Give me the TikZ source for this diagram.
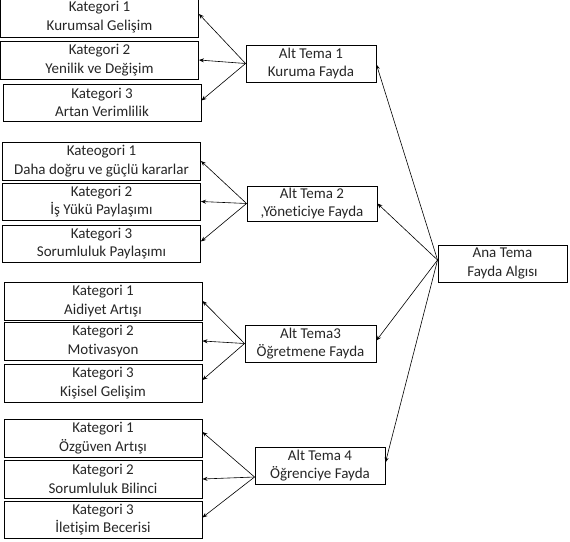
\documentclass[tikz,border=0pt]{standalone}
\usepackage{fontspec}
\setmainfont{Carlito}[Ligatures={NoCommon}]
\usetikzlibrary{arrows.meta}
\begin{document}
\begin{tikzpicture}[x=1pt,y=-1pt,
  box/.style={draw=black,line width=0.9pt,rectangle,inner sep=0pt,align=center,
    font=\fontsize{15}{18.5}\selectfont,text=black!85},
  kat/.style={box,minimum width=198pt,minimum height=38pt},
  alt/.style={box,minimum width=130pt,minimum height=37pt},
  arr/.style={-{Stealth[length=5pt,width=4pt]},line width=0.6pt,black}]
\useasboundingbox (0,0) rectangle (570,541);
% group 1
\node[kat,minimum height=40pt] (k11) at (99.5,17) {Kategori 1\\Kurumsal Gelişim};
\node[kat] (k12) at (99.5,60) {Kategori 2\\Yenilik ve Değişim};
\node[kat,minimum height=37pt] (k13) at (102,102.5) {Kategori 3\\Artan Verimlilik};
\node[alt] (a1) at (311,63.5) {Alt Tema 1\\Kuruma Fayda};
% group 2
\node[kat] (k21) at (101.5,161) {Kateogori 1\\Daha doğru ve güçlü kararlar};
\node[kat,minimum height=37pt] (k22) at (101.5,201.5) {Kategori 2\\İş Yükü Paylaşımı};
\node[kat,minimum height=37pt] (k23) at (101.5,243.5) {Kategori 3\\Sorumluluk Paylaşımı};
\node[alt,minimum height=35pt] (a2) at (312,203.5) {Alt Tema 2\\,Yöneticiye Fayda};
% group 3
\node[kat] (k31) at (103,301) {Kategori 1\\Aidiyet Artışı};
\node[kat] (k32) at (103,341) {Kategori 2\\Motivasyon};
\node[kat] (k33) at (103,383) {Kategori 3\\Kişisel Gelişim};
\node[alt,minimum width=131pt] (a3) at (310.5,343.5) {Alt Tema3\\Öğretmene Fayda};
% group 4
\node[kat] (k41) at (103,438) {Kategori 1\\Özgüven Artışı};
\node[kat] (k42) at (103,479) {Kategori 2\\Sorumluluk Bilinci};
\node[kat,minimum height=37pt] (k43) at (103,519.5) {Kategori 3\\İletişim Becerisi};
\node[alt] (a4) at (320,465.5) {Alt Tema 4\\Öğrenciye Fayda};
% main
\node[alt,minimum width=129pt] (ana) at (502.5,263.5) {Ana Tema\\Fayda Algısı};
% arrows
\draw[arr] (a1.west) -- ([yshift=3pt]k11.east);
\draw[arr] (a1.west) -- (k12.east);
\draw[arr] (a1.west) -- ([yshift=2pt]k13.east);
\draw[arr] (a2.west) -- (k21.east);
\draw[arr] (a2.west) -- (k22.east);
\draw[arr] (a2.west) -- ([yshift=2pt]k23.east);
\draw[arr] (a3.west) -- (k31.east);
\draw[arr] (a3.west) -- (k32.east);
\draw[arr] (a3.west) -- ([yshift=3pt]k33.east);
\coordinate (a4s) at ([yshift=-11.5pt]a4.west);
\draw[arr] (a4s) -- ([yshift=6pt]k41.east);
\draw[arr] (a4s) -- (k42.east);
\draw[arr] (a4s) -- ([yshift=2pt]k43.east);
\coordinate (anas) at ([yshift=3.5pt]ana.west);
\draw[arr] (anas) -- ([yshift=-1pt]a1.east);
\draw[arr] (anas) -- (a2.east);
\draw[arr] (anas) -- ([yshift=3pt]a3.east);
\draw[arr] (anas) -- ([yshift=3pt]a4.east);
\end{tikzpicture}
\end{document}
